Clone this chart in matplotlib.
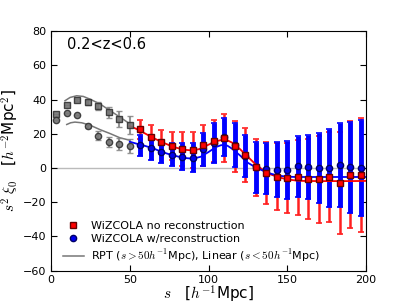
import matplotlib
matplotlib.use("Agg")
import matplotlib.pyplot as plt

plt.rcParams['mathtext.fontset'] = 'cm'

# s < 50 (linear regime points, grey)
s_lin = [3.3, 10.0, 16.7, 23.3, 30.0, 36.7, 43.3, 50.0]
xi_lin_norec = [31.3, 36.8, 39.7, 38.3, 36.0, 32.6, 28.7, 25.1]
err_lin_norec = [0.0, 0.0, 0.8, 1.5, 2.4, 3.3, 4.8, 5.5]
xi_lin_rec = [27.8, 32.2, 30.8, 24.7, 18.9, 14.9, 13.9, 13.0]
err_lin_rec = [0.0, 0.0, 0.0, 1.2, 2.4, 2.9, 3.4, 4.1]

# s > 50 points
s = [56.7, 63.3, 70.0, 76.7, 83.3, 90.0, 96.7, 103.3, 110.0, 116.7, 123.3,
     130.0, 136.7, 143.3, 150.0, 156.7, 163.3, 170.0, 176.7, 183.3, 190.0, 196.7]
xi_norec = [22.6, 18.2, 15.3, 12.9, 10.9, 10.5, 13.2, 15.5, 17.7, 12.7, 7.5,
            0.5, -3.0, -5.1, -5.8, -5.4, -6.6, -6.6, -5.4, -8.9, -3.9, -4.3]
err_norec = [5.7, 7.0, 7.0, 8.0, 10.0, 10.5, 12.0, 12.3, 14.0, 15.0, 16.0,
             16.7, 18.0, 19.6, 20.5, 22.0, 23.3, 25.5, 26.5, 30.0, 31.3, 33.3]
xi_rec = [13.2, 11.4, 9.3, 7.8, 6.6, 5.9, 10.8, 14.5, 18.0, 13.5, 6.8,
          0.4, -0.4, -1.1, -1.4, 0.9, 0.6, 0.1, 0.1, 1.8, 0.3, 0.1]
err_rec = [6.0, 7.0, 6.5, 6.8, 7.7, 8.5, 9.5, 11.8, 11.3, 13.0, 12.2,
           14.9, 14.7, 16.0, 17.0, 17.8, 18.7, 20.6, 22.7, 24.7, 26.6, 28.1]

# model curves
s_lin_model_norec = [8.9, 12.1, 16.3, 20.5, 24.8, 31.1, 37.5, 43.8, 50.0]
lin_model_norec = [39.3, 41.2, 42.2, 41.8, 40.2, 37.4, 33.5, 29.7, 25.8]
s_lin_model_rec = [10.0, 12.5, 15.2, 19.5, 24.8, 31.1, 37.5, 43.8, 50.0]
lin_model_rec = [25.4, 26.4, 26.8, 26.4, 25.0, 22.4, 20.1, 17.6, 16.2]

s_rpt = [50, 55, 60, 65, 70, 75, 80, 85, 90, 95, 100, 105, 108, 110, 112, 115,
         120, 125, 130, 135, 140, 145, 150, 155, 160, 170, 180, 190, 200]
rpt_norec = [24.5, 22.5, 20.0, 17.5, 15.3, 13.3, 11.7, 10.6, 10.2, 11.2, 13.6,
             15.6, 16.3, 16.4, 16.1, 14.8, 11.0, 6.5, 2.0, -1.5, -4.0, -5.6,
             -6.7, -7.3, -7.6, -7.7, -7.7, -7.7, -7.6]
rpt_rec = [15.3, 14.0, 12.8, 11.4, 9.5, 8.0, 6.8, 5.8, 5.4, 6.5, 9.3,
           12.3, 13.3, 13.4, 13.0, 11.2, 7.3, 3.0, 0.3, -1.8, -3.5, -4.6,
           -5.1, -5.3, -5.3, -5.3, -5.3, -5.3, -5.3]

fig = plt.figure(figsize=(4.07, 3.05), dpi=100)
ax = fig.add_axes([0.1253, 0.113, 0.7740, 0.785])

ax.axhline(0, color='#bbbbbb', lw=1, zorder=0)

# grey points below 50
ax.errorbar(s_lin, xi_lin_norec, yerr=err_lin_norec, fmt='s', color='#777777',
            mec='#333333', ms=4.5, ecolor='#888888', elinewidth=1.5, capsize=2.5,
            alpha=0.9, zorder=3)
ax.errorbar(s_lin, xi_lin_rec, yerr=err_lin_rec, fmt='o', color='#777777',
            mec='#333333', ms=4.5, ecolor='#888888', elinewidth=1.5, capsize=2.5,
            alpha=0.9, zorder=3)
ax.plot(s_lin_model_norec, lin_model_norec, color='#777777', lw=1.1, zorder=2)
ax.plot(s_lin_model_rec, lin_model_rec, color='#777777', lw=1.1, zorder=2)

# errorbars above 50
eb_red = ax.errorbar(s, xi_norec, yerr=err_norec, fmt='none', ecolor='#ff2020',
                     elinewidth=1.8, capsize=2.5, capthick=1.2, zorder=1)
eb_blue = ax.errorbar(s, xi_rec, yerr=err_rec, fmt='none', ecolor='#0000ff',
                      elinewidth=3.5, capsize=2.5, capthick=1.2, zorder=2)
for cap in eb_red[1]:
    cap.set_color('#ff9090')
for cap in eb_blue[1]:
    cap.set_color('#8080ff')

ax.plot(s_rpt, rpt_norec, color='red', lw=1.3, zorder=3)
ax.plot(s_rpt, rpt_rec, color='blue', lw=1.3, zorder=3)

ax.plot(s, xi_rec, 'o', color='#0000ee', mec='#000066', ms=4.5, zorder=4)
ax.plot(s, xi_norec, 's', color='red', mec='#660000', ms=4.5, zorder=5)

# legend handles in the reference order
h_no = plt.Line2D([], [], ls='none', marker='s', color='red', mec='#660000', ms=4.5)
h_re = plt.Line2D([], [], ls='none', marker='o', color='#0000ee', mec='#000066', ms=4.5)
h_ln = plt.Line2D([], [], color='#777777', lw=1.1)
ax.legend([h_no, h_re, h_ln],
          ['WiZCOLA no reconstruction', 'WiZCOLA w/reconstruction',
           r'RPT ($s>50h^{-1}$Mpc), Linear ($s<50h^{-1}$Mpc)'],
          loc='lower left', bbox_to_anchor=(0.005, -0.015), frameon=False,
          fontsize=8, numpoints=1, handlelength=1.9, handletextpad=0.7,
          labelspacing=0.3)

ax.text(10, 72, '0.2<z<0.6', fontsize=10.5, va='center')

ax.set_xlim(0, 200)
ax.set_ylim(-60, 80)
ax.set_xticks([0, 50, 100, 150, 200])
ax.set_yticks(range(-60, 81, 20))
ax.tick_params(direction='in', top=True, right=True, labelsize=8, length=4)
ax.set_xlabel(r'$s$   [$h^{-1}$Mpc]', fontsize=11, labelpad=-1)
ax.set_ylabel(r'$s^2\ \xi_0$   [$h^{-2}$Mpc$^2$]', fontsize=11, labelpad=1)

fig.savefig('out.png', dpi=100)
